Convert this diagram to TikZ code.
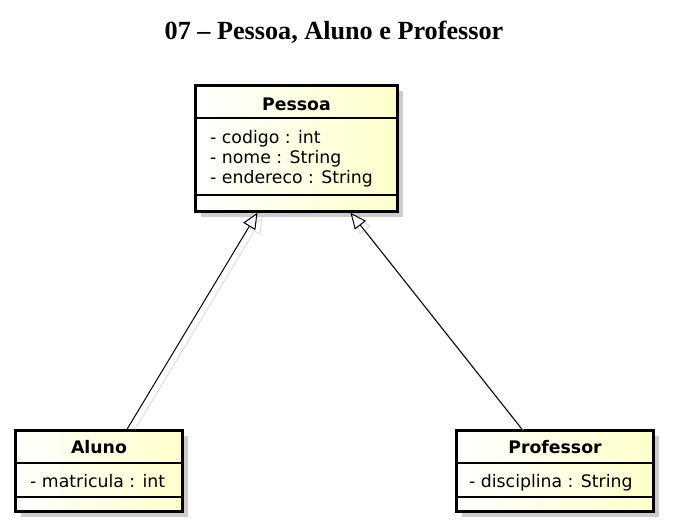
\documentclass[tikz,border=0pt]{standalone}
\usepackage{fontspec}
\setmainfont{Liberation Serif}
\newfontfamily\umlfont{DejaVu Sans}
\usetikzlibrary{arrows.meta,shadows}
\definecolor{umlfill}{RGB}{255,255,204}
\definecolor{umlshadow}{RGB}{204,204,204}
\tikzset{
  uml class/.style={draw=black,line width=2.4pt,left color=white,right color=umlfill,inner sep=0pt,
    drop shadow={shadow xshift=5pt,shadow yshift=-5pt,fill=umlshadow,opacity=1}},
  uml rule/.style={line width=1.3pt,draw=black},
  uml name/.style={font=\umlfont\bfseries\fontsize{17.3}{20}\selectfont,inner sep=0pt,anchor=base},
  uml attr/.style={font=\umlfont\fontsize{17.3}{20}\selectfont,inner sep=0pt,anchor=base west},
  uml inherit/.style={-{Triangle[fill=white,length=16pt,width=14pt]},line width=1pt,draw=black},
  uml inherit shadow/.style={-{Triangle[fill=white,length=16pt,width=14pt]},line width=1pt,draw=black!13,
    shorten <=6pt,transform canvas={xshift=5pt,yshift=-5pt}},
  diagram title/.style={font=\bfseries\fontsize{26.2}{30}\selectfont,inner sep=0pt,anchor=base}
}

\begin{document}
\begin{tikzpicture}[x=1pt,y=-1pt]
  \useasboundingbox (0,0) rectangle (673,531);
  \node[diagram title] (title) at (334,39) {07 – Pessoa, Aluno e Professor};

  % classes
  \node[uml class,minimum width=202pt,minimum height=126pt] (pessoa) at (296.5,148.5) {};
  \node[uml class,minimum width=167pt,minimum height=81pt] (aluno) at (99,471) {};
  \node[uml class,minimum width=197pt,minimum height=81pt] (professor) at (555,471) {};

  \draw[uml rule] (pessoa.west |- 0,118) -- (pessoa.east |- 0,118);
  \draw[uml rule] (pessoa.west |- 0,195) -- (pessoa.east |- 0,195);
  \draw[uml rule] (aluno.west |- 0,463) -- (aluno.east |- 0,463);
  \draw[uml rule] (aluno.west |- 0,497) -- (aluno.east |- 0,497);
  \draw[uml rule] (professor.west |- 0,463) -- (professor.east |- 0,463);
  \draw[uml rule] (professor.west |- 0,497) -- (professor.east |- 0,497);

  \node[uml name] (pessoa-name) at (296.5,110) {Pessoa};
  \foreach \attr [count=\i] in {- codigo : int,- nome : String,- endereco : String}
    \node[uml attr] (pessoa-attr-\i) at (210,{143+20.4*(\i-1)}) {\attr};
  \node[uml name] (aluno-name) at (99,453) {Aluno};
  \node[uml attr] (aluno-attr-1) at (30,487) {- matricula : int};
  \node[uml name] (professor-name) at (555,453) {Professor};
  \node[uml attr] (professor-attr-1) at (469,487) {- disciplina : String};

  % generalizations
  \draw[uml inherit shadow] ([xshift=28pt]aluno.north) -- ([xshift=-39pt]pessoa.south);
  \draw[uml inherit shadow] ([xshift=-33pt]professor.north) -- ([xshift=54pt]pessoa.south);
  \draw[uml inherit] ([xshift=28pt]aluno.north) -- ([xshift=-39pt]pessoa.south);
  \draw[uml inherit] ([xshift=-33pt]professor.north) -- ([xshift=54pt]pessoa.south);
\end{tikzpicture}
\end{document}
